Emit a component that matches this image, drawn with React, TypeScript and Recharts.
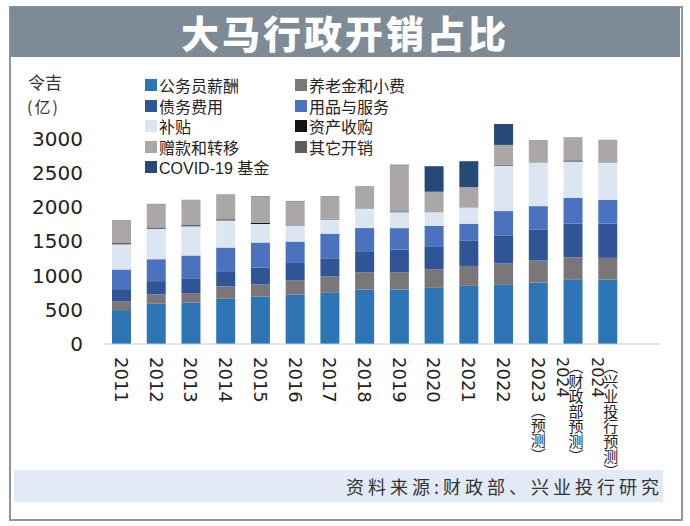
import React from "react";
import { Bar, BarChart, XAxis, YAxis } from "recharts";

// 年份（含预测）
const years = [
  "2011", "2012", "2013", "2014", "2015", "2016", "2017", "2018",
  "2019", "2020", "2021", "2022", "2023（预测）",
  "2024\n（财政部预测）", "2024\n（兴业投行预测）",
];

// 单位：令吉（亿）
const salary = [495, 587, 607, 660, 689, 724, 757, 796, 796, 820, 849, 874, 898, 946, 942];
const pension = [131, 137, 136, 180, 185, 208, 233, 252, 248, 272, 291, 301, 320, 320, 316];
const debt = [175, 194, 208, 223, 243, 252, 262, 296, 335, 335, 374, 412, 456, 491, 500];
const supplies = [287, 320, 341, 345, 364, 312, 360, 349, 313, 296, 243, 354, 339, 379, 345];
const subsidy = [368, 447, 427, 397, 271, 237, 208, 282, 233, 199, 233, 665, 641, 529, 543];
const assets = [15, 15, 15, 15, 20, 10, 7, 4, 10, 0, 0, 10, 4, 15, 4];
const grants = [335, 339, 364, 360, 383, 339, 325, 315, 674, 301, 300, 291, 316, 325, 326];
const others = [5, 7, 7, 5, 5, 7, 7, 7, 10, 0, 0, 0, 5, 10, 5];
const covid = [0, 0, 0, 0, 0, 0, 0, 0, 0, 373, 379, 306, 0, 0, 0];

const yTicks = [0, 500, 1000, 1500, 2000, 2500, 3000];

const series = [
  { key: "salary", name: "公务员薪酬", color: "#2e75b6", values: salary },
  { key: "pension", name: "养老金和小费", color: "#7b7678", values: pension },
  { key: "debt", name: "债务费用", color: "#2f5597", values: debt },
  { key: "supplies", name: "用品与服务", color: "#4a72bf", values: supplies },
  { key: "subsidy", name: "补贴", color: "#dce5f2", values: subsidy },
  { key: "assets", name: "资产收购", color: "#151515", values: assets },
  { key: "grants", name: "赠款和转移", color: "#aca7a7", values: grants },
  { key: "others", name: "其它开销", color: "#5e5e5e", values: others },
  { key: "covid", name: "COVID-19 基金", color: "#264a78", values: covid },
];

const data = years.map((year, i) => {
  const row: Record<string, string | number> = { year };
  series.forEach((s) => (row[s.key] = s.values[i]));
  return row;
});

// legend is two columns, read row by row
const legendRows = [
  [series[0], series[1]],
  [series[2], series[3]],
  [series[4], series[5]],
  [series[6], series[7]],
  [series[8]],
];

const cjk = '"Liberation Sans", "Noto Sans CJK SC", sans-serif';

function YTick({ y, payload }: any) {
  return (
    <text
      x={83}
      y={y}
      textAnchor="end"
      dominantBaseline="central"
      fontFamily='"DejaVu Sans", sans-serif'
      fontSize={20}
      fill="#222"
    >
      {payload.value}
    </text>
  );
}

function XTick({ x, y, payload }: any) {
  const lines = String(payload.value).split("\n");
  const vertical = { writingMode: "vertical-rl" as const };
  if (lines.length === 1) {
    const m = lines[0].match(/^(\d+)(.*)$/);
    const num = m ? m[1] : lines[0];
    const rest = m ? m[2] : "";
    return (
      <text x={x} y={y + 5} style={vertical} fill="#222" fontFamily='"DejaVu Sans", "Noto Sans CJK SC"' fontSize={18}>
        {num}
        {rest && (
          <tspan fill="#222" fontFamily='"Noto Sans CJK SC"' fontSize={15}>
            {rest}
          </tspan>
        )}
      </text>
    );
  }
  return (
    <g>
      <text x={x - 10} y={y + 5} style={vertical} fill="#222" fontFamily='"DejaVu Sans"' fontSize={16}>
        {lines[0]}
      </text>
      <text x={x + 3} y={y + 7} style={vertical} fill="#222" fontFamily='"Noto Sans CJK SC"' fontSize={15}>
        {lines[1]}
      </text>
    </g>
  );
}

export default function App() {
  return (
    <div style={{ position: "absolute", left: 0, top: 0, width: 690, height: 526, background: "#fff", overflow: "hidden" }}>
      {/* frame */}
      <div style={{ position: "absolute", left: 9, top: 6, width: 670, height: 511, border: "2px solid #8d969d" }} />
      {/* title band */}
      <div
        style={{
          position: "absolute", left: 10, top: 7, width: 670, height: 50, background: "#7e8b96",
          color: "#fff", fontFamily: '"Noto Sans CJK SC"', fontWeight: 900, fontSize: 38,
          letterSpacing: 3, lineHeight: "50px", textAlign: "center",
        }}
      >
        大马行政开销占比
      </div>

      {/* unit */}
      <div style={{ position: "absolute", left: 28, top: 73, fontFamily: '"Noto Sans CJK SC"', fontSize: 17, lineHeight: "17px", color: "#333" }}>
        令吉
      </div>
      <div style={{ position: "absolute", left: 27, top: 98, fontFamily: '"Noto Sans CJK SC"', fontSize: 16, lineHeight: "16px", color: "#333", letterSpacing: 2 }}>
        (亿)
      </div>

      <div style={{ position: "absolute", left: 0, top: 0 }}>
        <BarChart width={690} height={526} data={data} margin={{ top: 118, right: 30, left: 0, bottom: 52 }}>
          <XAxis
            dataKey="year"
            interval={0}
            height={130}
            tickLine={false}
            axisLine={{ stroke: "#c9c9c9" }}
            padding={{ left: 0, right: 35 }}
            tick={<XTick />}
          />
          <YAxis width={104} domain={[0, 3300]} ticks={yTicks} axisLine={false} tickLine={false} tick={<YTick />} />
          {series.map((s) => (
            <Bar key={s.key} dataKey={s.key} name={s.name} stackId="a" fill={s.color} barSize={19} isAnimationActive={false} />
          ))}
        </BarChart>
      </div>

      {/* legend */}
      {legendRows.map((row, r) =>
        row.map((s, c) => (
          <div
            key={s.key}
            style={{
              position: "absolute", left: c === 0 ? 145 : 295, top: 75 + r * 20.5, height: 20,
              display: "flex", alignItems: "center", fontFamily: cjk, fontSize: 16, color: "#222", whiteSpace: "nowrap",
            }}
          >
            <span style={{ display: "inline-block", width: 12, height: 12, background: s.color, marginRight: 2 }} />
            {s.name}
          </div>
        ))
      )}

      {/* source */}
      <div
        style={{
          position: "absolute", left: 14, top: 470, width: 649, height: 32, background: "#e1eaf5",
          fontFamily: '"Noto Sans CJK SC"', fontSize: 18, letterSpacing: 4, color: "#333",
          lineHeight: "32px", textAlign: "right", boxSizing: "border-box",
        }}
      >
        资料来源:财政部、兴业投行研究
      </div>
    </div>
  );
}
